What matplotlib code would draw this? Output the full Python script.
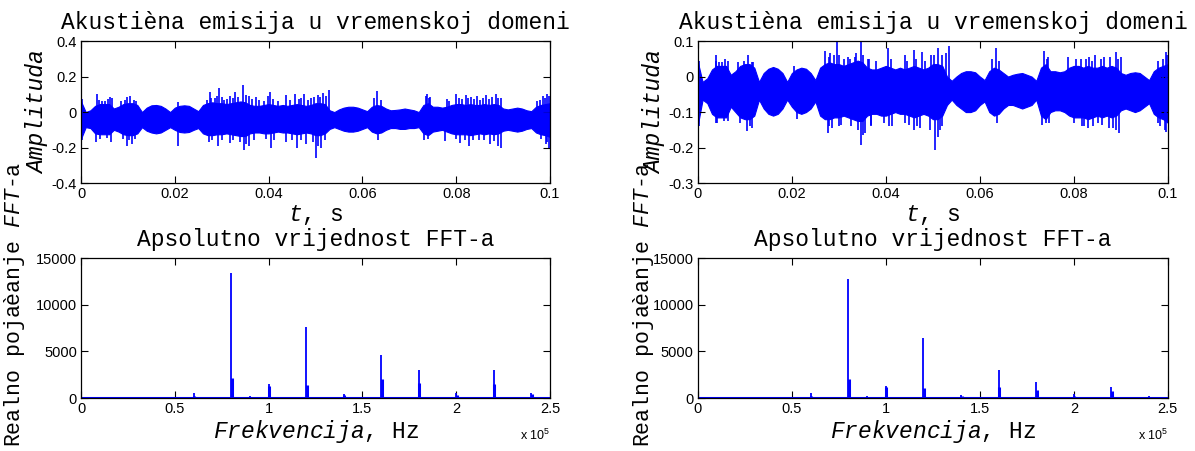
"""
Akustična emisija: vremenski signal i apsolutna vrijednost FFT-a (dva kanala).
"""
import matplotlib

matplotlib.use("Agg")
import matplotlib.pyplot as plt
import numpy as np
from matplotlib.ticker import FuncFormatter

plt.rcParams["axes.unicode_minus"] = False
plt.rcParams["mathtext.fontset"] = "custom"
plt.rcParams["mathtext.it"] = "Liberation Mono:italic"
plt.rcParams["mathtext.rm"] = "Liberation Mono"
plt.rcParams["mathtext.sf"] = "Liberation Sans"

# ---------------------------------------------------------------- data
# time grid of the envelope readings (s)
env_t = np.linspace(0.0, 0.1, 101)

# left channel: core band of the signal (upper / lower edge)
left_hi = [0.06, 0.00, 0.01, 0.035, 0.045, 0.045, 0.045, 0.02, 0.03, 0.045,
           0.05, 0.05, 0.04, 0.0, 0.025, 0.038, 0.04, 0.035, 0.02, 0.0,
           0.025, 0.035, 0.038, 0.035, 0.02, 0.005, 0.04, 0.05, 0.055, 0.05,
           0.05, 0.045, 0.05, 0.055, 0.06, 0.055, 0.04, 0.035, 0.035, 0.04,
           0.045, 0.04, 0.035, 0.04, 0.035, 0.04, 0.045, 0.04, 0.035, 0.04,
           0.05, 0.05, 0.045, 0.01, 0.0, 0.015, 0.025, 0.03, 0.03, 0.025,
           0.015, 0.005, 0.03, 0.04, 0.035, 0.02, 0.01, 0.012, 0.015, 0.02,
           0.015, 0.01, 0.0, 0.04, 0.05, 0.03, 0.03, 0.025, 0.03, 0.04,
           0.045, 0.045, 0.04, 0.045, 0.04, 0.04, 0.045, 0.04, 0.045, 0.04,
           0.02, 0.015, 0.02, 0.025, 0.02, 0.01, 0.005, 0.03, 0.04, 0.045,
           0.05]
left_lo = [-0.15, -0.085, -0.09, -0.12, -0.125, -0.125, -0.125, -0.1, -0.11, -0.125,
           -0.13, -0.13, -0.12, -0.085, -0.105, -0.115, -0.12, -0.115, -0.1, -0.085,
           -0.1, -0.112, -0.115, -0.112, -0.1, -0.09, -0.12, -0.13, -0.13, -0.125,
           -0.125, -0.12, -0.125, -0.13, -0.135, -0.135, -0.12, -0.115, -0.115, -0.12,
           -0.12, -0.115, -0.11, -0.115, -0.115, -0.12, -0.125, -0.12, -0.115, -0.12,
           -0.13, -0.13, -0.12, -0.095, -0.085, -0.095, -0.105, -0.11, -0.11, -0.105,
           -0.095, -0.085, -0.11, -0.12, -0.115, -0.1, -0.09, -0.09, -0.095, -0.095,
           -0.09, -0.09, -0.085, -0.12, -0.13, -0.11, -0.105, -0.1, -0.11, -0.12,
           -0.125, -0.125, -0.125, -0.13, -0.125, -0.12, -0.125, -0.12, -0.125, -0.12,
           -0.105, -0.1, -0.105, -0.11, -0.105, -0.095, -0.09, -0.115, -0.125, -0.13,
           -0.14]
# left channel: bursts (time, tip value)
left_spike_t = [0.0003, 0.0035, 0.0045, 0.0061, 0.0066, 0.0093, 0.0099, 0.0104,
                0.0112, 0.0207, 0.0268, 0.0275, 0.0285, 0.0294, 0.0305, 0.0318,
                0.0328, 0.0346, 0.0358, 0.0372, 0.0398, 0.0403, 0.0436, 0.0457,
                0.0476, 0.0490, 0.0505, 0.0515, 0.0529, 0.0625, 0.0632, 0.0735,
                0.0738, 0.0745, 0.0780, 0.0799, 0.0812, 0.0820, 0.0832, 0.0845,
                0.0863, 0.0884, 0.0895, 0.0978, 0.0985, 0.0994,
                0.0038, 0.0052, 0.0057, 0.0085, 0.0118, 0.0278, 0.0290, 0.0300,
                0.0312, 0.0324, 0.0335, 0.0352, 0.0365, 0.0380, 0.0390, 0.0410,
                0.0420, 0.0445, 0.0465, 0.0470, 0.0483, 0.0497, 0.0510, 0.0522,
                0.0640, 0.0742, 0.0785, 0.0805, 0.0826, 0.0838, 0.0850, 0.0857,
                0.0870, 0.0877, 0.0890, 0.0972, 0.0990, 0.0998,
                0.0002, 0.0031, 0.0064, 0.0097, 0.0108, 0.0207, 0.0273, 0.0293,
                0.0318, 0.0347, 0.0358, 0.0405, 0.0438, 0.0461, 0.0480, 0.0501,
                0.0511, 0.0634, 0.0731, 0.0775, 0.0808, 0.0827, 0.0848, 0.0873,
                0.0890, 0.0895, 0.0991, 0.0997,
                0.0040, 0.0055, 0.0090, 0.0102, 0.0115, 0.0280, 0.0300, 0.0325,
                0.0340, 0.0352, 0.0368, 0.0395, 0.0412, 0.0450, 0.0470, 0.0494,
                0.0505, 0.0520, 0.0740, 0.0800, 0.0818, 0.0835, 0.0860, 0.0880,
                0.0980, 0.0993]
left_spike_y = [0.075, 0.10, 0.06, 0.085, 0.08, 0.07, 0.085, 0.092,
                0.07, 0.055, 0.07, 0.114, 0.08, 0.137, 0.07, 0.09,
                0.114, 0.155, 0.09, 0.085, 0.09, 0.114, 0.097, 0.10,
                0.10, 0.08, 0.097, 0.11, 0.123, 0.08, 0.12, 0.09,
                0.10, 0.085, 0.075, 0.10, 0.075, 0.095, 0.085, 0.09,
                0.095, 0.102, 0.08, 0.07, 0.09, 0.104,
                0.07, 0.065, 0.075, 0.065, 0.065, 0.08, 0.09, 0.085,
                0.075, 0.08, 0.085, 0.095, 0.075, 0.07, 0.065, 0.075,
                0.065, 0.07, 0.075, 0.08, 0.07, 0.085, 0.085, 0.09,
                0.07, 0.08, 0.065, 0.08, 0.08, 0.075, 0.07, 0.08,
                0.075, 0.085, 0.08, 0.065, 0.08, 0.09,
                -0.16, -0.167, -0.17, -0.19, -0.18, -0.19, -0.17, -0.19,
                -0.175, -0.214, -0.19, -0.20, -0.17, -0.20, -0.18, -0.26,
                -0.20, -0.16, -0.16, -0.165, -0.175, -0.19, -0.16, -0.18,
                -0.19, -0.20, -0.18, -0.20,
                -0.15, -0.145, -0.15, -0.16, -0.15, -0.16, -0.155, -0.16,
                -0.17, -0.18, -0.16, -0.15, -0.16, -0.155, -0.16, -0.17,
                -0.19, -0.16, -0.15, -0.15, -0.16, -0.16, -0.155, -0.165,
                -0.15, -0.17]

# right channel
right_hi = [0.04, -0.015, -0.005, 0.02, 0.03, 0.03, 0.03, 0.005, 0.015, 0.03,
            0.035, 0.035, 0.025, -0.015, 0.01, 0.022, 0.027, 0.022, 0.01, -0.015,
            0.01, 0.02, 0.025, 0.022, 0.01, -0.01, 0.025, 0.035, 0.04, 0.035,
            0.035, 0.03, 0.035, 0.04, 0.045, 0.04, 0.025, 0.02, 0.02, 0.025,
            0.03, 0.025, 0.02, 0.025, 0.02, 0.025, 0.03, 0.025, 0.02, 0.025,
            0.035, 0.035, 0.03, 0.0, -0.012, 0.0, 0.01, 0.015, 0.015, 0.012,
            0.0, -0.01, 0.015, 0.025, 0.02, 0.01, 0.0, 0.005, 0.008, 0.01,
            0.005, 0.0, -0.012, 0.025, 0.035, 0.015, 0.015, 0.012, 0.015, 0.025,
            0.03, 0.03, 0.025, 0.03, 0.025, 0.025, 0.03, 0.025, 0.03, 0.025,
            0.01, 0.005, 0.01, 0.012, 0.01, 0.0, -0.01, 0.015, 0.025, 0.03,
            0.035]
right_lo = [-0.135, -0.065, -0.075, -0.105, -0.115, -0.115, -0.115, -0.085, -0.1, -0.115,
            -0.12, -0.12, -0.11, -0.065, -0.09, -0.105, -0.11, -0.105, -0.09, -0.065,
            -0.085, -0.1, -0.105, -0.1, -0.09, -0.07, -0.11, -0.12, -0.12, -0.115,
            -0.115, -0.11, -0.115, -0.12, -0.125, -0.125, -0.11, -0.105, -0.105, -0.11,
            -0.11, -0.105, -0.1, -0.105, -0.105, -0.11, -0.115, -0.11, -0.105, -0.11,
            -0.12, -0.12, -0.11, -0.08, -0.065, -0.08, -0.09, -0.1, -0.1, -0.095,
            -0.08, -0.07, -0.1, -0.11, -0.105, -0.09, -0.08, -0.08, -0.085, -0.09,
            -0.085, -0.08, -0.065, -0.11, -0.12, -0.1, -0.095, -0.095, -0.1, -0.11,
            -0.115, -0.115, -0.115, -0.12, -0.115, -0.11, -0.115, -0.11, -0.115, -0.11,
            -0.095, -0.09, -0.095, -0.1, -0.095, -0.085, -0.075, -0.105, -0.115, -0.12,
            -0.13]
right_spike_t = [0.0003, 0.0038, 0.0045, 0.0065, 0.0098, 0.0107, 0.0115, 0.0205,
                 0.0270, 0.0282, 0.0297, 0.0310, 0.0320, 0.0337, 0.0347, 0.0361,
                 0.0404, 0.0441, 0.0460, 0.0477, 0.0503, 0.0511, 0.0534, 0.0625,
                 0.0635, 0.0736, 0.0745, 0.0788, 0.0815, 0.0833, 0.0845, 0.0865,
                 0.0889, 0.0900, 0.0980, 0.0996,
                 0.0038, 0.0052, 0.0057, 0.0085, 0.0118, 0.0278, 0.0290, 0.0300,
                 0.0324, 0.0335, 0.0352, 0.0365, 0.0380, 0.0410, 0.0445, 0.0465,
                 0.0483, 0.0497, 0.0520, 0.0527, 0.0640, 0.0742, 0.0805, 0.0826,
                 0.0838, 0.0857, 0.0877, 0.0893, 0.0990, 0.0998,
                 0.0002, 0.0038, 0.0065, 0.0104, 0.0115, 0.0210, 0.0276, 0.0285,
                 0.0305, 0.0347, 0.0355, 0.0369, 0.0407, 0.0441, 0.0460, 0.0472,
                 0.0504, 0.0515, 0.0636, 0.0733, 0.0748, 0.0822, 0.0829, 0.0851,
                 0.0883, 0.0897, 0.0983, 0.0996,
                 0.0040, 0.0055, 0.0090, 0.0110, 0.0280, 0.0300, 0.0325, 0.0340,
                 0.0352, 0.0368, 0.0395, 0.0412, 0.0450, 0.0466, 0.0494, 0.0510,
                 0.0520, 0.0740, 0.0800, 0.0818, 0.0840, 0.0860, 0.0875, 0.0890,
                 0.0980, 0.0993]
right_spike_y = [0.045, 0.06, 0.04, 0.045, 0.045, 0.061, 0.04, 0.03,
                 0.071, 0.065, 0.099, 0.05, 0.055, 0.065, 0.10, 0.05,
                 0.08, 0.06, 0.075, 0.07, 0.06, 0.081, 0.085, 0.05,
                 0.08, 0.071, 0.055, 0.055, 0.05, 0.055, 0.06, 0.055,
                 0.068, 0.055, 0.045, 0.068,
                 0.045, 0.04, 0.05, 0.04, 0.04, 0.055, 0.06, 0.06,
                 0.05, 0.055, 0.06, 0.05, 0.045, 0.05, 0.045, 0.05,
                 0.045, 0.06, 0.06, 0.065, 0.045, 0.05, 0.05, 0.05,
                 0.045, 0.05, 0.055, 0.05, 0.05, 0.06,
                 -0.14, -0.13, -0.125, -0.153, -0.145, -0.12, -0.16, -0.145,
                 -0.135, -0.192, -0.16, -0.135, -0.14, -0.13, -0.15, -0.145,
                 -0.206, -0.15, -0.13, -0.135, -0.13, -0.14, -0.145, -0.13,
                 -0.145, -0.158, -0.14, -0.155,
                 -0.13, -0.125, -0.13, -0.14, -0.14, -0.14, -0.14, -0.15,
                 -0.165, -0.14, -0.13, -0.14, -0.135, -0.14, -0.15, -0.17,
                 -0.14, -0.13, -0.13, -0.14, -0.14, -0.135, -0.145, -0.15,
                 -0.13, -0.15]

# FFT magnitude: main lines (Hz, |X|) and their neighbouring bins
fft_freq = [40000, 60000, 80000, 90000, 100000, 120000, 140000,
            160000, 180000, 200000, 220000, 230000, 240000]
left_fft = [150, 500, 13400, 250, 1450, 7600, 450,
            4600, 3000, 500, 3050, 100, 550]
left_fft_side = [80, 200, 2200, 100, 1300, 1400, 300,
                 2000, 1600, 350, 1500, 60, 450]
right_fft = [150, 500, 12800, 250, 1300, 6400, 350,
             3000, 1700, 400, 1200, 80, 200]
right_fft_side = [80, 200, 2000, 100, 1200, 1100, 250,
                  1200, 900, 250, 700, 50, 150]
fft_floor_freq = [0, 250000]
fft_floor = [40, 40]

BLUE = "#0000ff"
TITLE_FONT = dict(family="Liberation Mono", size=16.5)
TICK_FONT = "Liberation Sans"


def _style(ax):
    ax.tick_params(direction="in", length=5, width=0.8, top=True, right=True,
                   labelsize=10.5, pad=3)
    for lab in ax.get_xticklabels() + ax.get_yticklabels():
        lab.set_fontfamily(TICK_FONT)
    for sp in ax.spines.values():
        sp.set_linewidth(0.9)


def plot_time(ax, hi, lo, spike_t, spike_y, ylim, yticks):
    ax.fill_between(env_t, lo, hi, color=BLUE, lw=0.8, edgecolor=BLUE)
    centre = [(h + l) / 2 for h, l in zip(np.interp(spike_t, env_t, hi),
                                          np.interp(spike_t, env_t, lo))]
    ax.vlines(spike_t, centre, spike_y, color=BLUE, lw=1.2)
    ax.set_xlim(0, 0.1)
    ax.set_ylim(*ylim)
    ax.set_xticks([0, 0.02, 0.04, 0.06, 0.08, 0.1])
    ax.set_yticks(yticks)
    ax.xaxis.set_major_formatter(FuncFormatter(lambda v, p: f"{v:g}"))
    ax.yaxis.set_major_formatter(FuncFormatter(lambda v, p: f"{v:g}"))
    ax.set_title("Akustièna emisija u vremenskoj domeni", pad=9, **TITLE_FONT)
    ax.set_xlabel("$t$, s", labelpad=1, **TITLE_FONT)
    ax.set_ylabel("Amplituda", style="italic", labelpad=2, **TITLE_FONT)
    _style(ax)


def plot_fft(ax, peaks, side):
    ax.plot(fft_floor_freq, fft_floor, color=BLUE, lw=2.2)
    ax.vlines(fft_freq, 0, peaks, color=BLUE, lw=1.3)
    ax.vlines([f + 300 for f in fft_freq], 0, side, color=BLUE, lw=2.2)
    ax.set_xlim(0, 250000)
    ax.set_ylim(0, 15000)
    ax.set_xticks([0, 50000, 100000, 150000, 200000, 250000])
    ax.set_yticks([0, 5000, 10000, 15000])
    ax.xaxis.set_major_formatter(FuncFormatter(lambda v, p: f"{v / 1e5:g}"))
    ax.set_title("Apsolutno vrijednost FFT-a", pad=9, **TITLE_FONT)
    ax.set_xlabel("$Frekvencija$, Hz", labelpad=1, **TITLE_FONT)
    ax.text(1.0, -0.27, "x 10$^{\\mathsf{5}}$", transform=ax.transAxes,
            ha="right", va="center", family=TICK_FONT, fontsize=9)
    _style(ax)


fig = plt.figure(figsize=(11.95, 4.51), dpi=100)

ax_tl = fig.add_axes([0.0678, 0.594, 0.3925, 0.315])
ax_bl = fig.add_axes([0.0678, 0.1175, 0.3925, 0.310])
ax_tr = fig.add_axes([0.584, 0.594, 0.3933, 0.315])
ax_br = fig.add_axes([0.584, 0.1175, 0.3933, 0.310])

plot_time(ax_tl, left_hi, left_lo, left_spike_t, left_spike_y,
          (-0.4, 0.4), [-0.4, -0.2, 0, 0.2, 0.4])
plot_time(ax_tr, right_hi, right_lo, right_spike_t, right_spike_y,
          (-0.3, 0.1), [-0.3, -0.2, -0.1, 0, 0.1])
plot_fft(ax_bl, left_fft, left_fft_side)
plot_fft(ax_br, right_fft, right_fft_side)

# y label of the FFT panels, sitting low at the figure edge as in the original
for x in (15, 643):
    fig.text(x / 1195, 1 - 304 / 451, "Realno pojaèanje $FFT$-a", rotation=90,
             ha="center", va="center", family="Liberation Mono", size=15.5)

fig.savefig("out.png", dpi=100)
